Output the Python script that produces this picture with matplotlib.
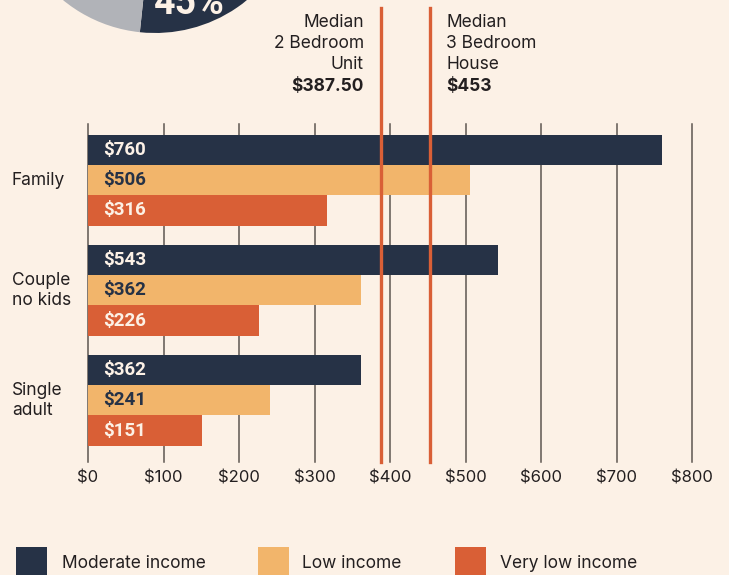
import numpy as np
import matplotlib
matplotlib.use("Agg")
import matplotlib.pyplot as plt
from matplotlib.patches import Rectangle

# data
categories = ["Family", "Couple\nno kids", "Single\nadult"]
series_names = ["Moderate income", "Low income", "Very low income"]
moderate = [760, 543, 362]
low = [506, 362, 241]
very_low = [316, 226, 151]
medians = [387.50, 453]
median_labels = ["Median\n2 Bedroom\nUnit", "Median\n3 Bedroom\nHouse"]
median_values = ["$387.50", "$453"]
pie_values = [45, 55]
pie_label = "45%"
xticks = [0, 100, 200, 300, 400, 500, 600, 700, 800]

BG = "#FCF1E6"
NAVY = "#263246"
ORANGE = "#F2B56B"
RED = "#D95F36"
GREY = "#B1B3B8"
GRID = "#5E5650"
TXT = "#231F20"
CREAM = "#FCF1E6"

W, H = 729, 575
plt.rcParams["font.family"] = ["Inter", "DejaVu Sans"]
fig = plt.figure(figsize=(W / 100, H / 100), dpi=100, facecolor=BG)

def px(x0, y0, x1, y1):
    # pixel box (top-left origin) -> figure fraction rect
    return [x0 / W, 1 - y1 / H, (x1 - x0) / W, (y1 - y0) / H]

val_font = dict(family=["Roboto", "DejaVu Sans"], weight="bold", fontsize=13.5)

# partial pie at the top, cut by the edge
pax = fig.add_axes(px(10, -257, 300, 33))
pax.pie(pie_values, colors=[NAVY, GREY], startangle=264, counterclock=True,
        radius=1, wedgeprops=dict(linewidth=0))
pax.text(0.24, -0.80, pie_label, color=CREAM, fontsize=27, ha="center", va="center",
         family=["Roboto", "DejaVu Sans"], weight="bold")
pax.set_xlim(-1, 1)
pax.set_ylim(-1, 1)
pax.set_aspect("equal")
pax.axis("off")

# bar chart
ax = fig.add_axes(px(88, 124, 692, 462))
ax.set_facecolor(BG)
y = np.arange(len(categories))
h = 0.275
for vals, col, off, tcol in [(moderate, NAVY, -h, CREAM), (low, ORANGE, 0, NAVY),
                             (very_low, RED, h, CREAM)]:
    ax.barh(y + off, vals, height=h, color=col, zorder=3, linewidth=0)
    for yi, v in zip(y, vals):
        ax.text(20, yi + off, f"${v}", color=tcol, va="center", ha="left",
                zorder=4, **val_font)

ax.set_xlim(0, 800)
ax.set_ylim(2.56, -0.51)
ax.set_xticks(xticks)
ax.set_xticklabels([f"${t}" for t in xticks], fontsize=12, color=TXT)
ax.tick_params(axis="x", length=0, pad=6)
ax.set_yticks([])
for s in ax.spines.values():
    s.set_visible(False)
for t in xticks:
    ax.axvline(t, color=GRID, lw=1.1, zorder=1, clip_on=False)

for yi, c in zip(y, categories):
    ax.text(-76 / 604 * 800, yi, c, fontsize=12.5, color=TXT, ha="left",
            va="center", linespacing=1.25)

# median lines and labels
for m in medians:
    ax.axvline(m, ymin=0, ymax=1.343, color=RED, lw=2.4, zorder=5, clip_on=False)

fig.text(364 / W, 1 - 14 / H, median_labels[0], ha="right", va="top", fontsize=12.5,
         color=TXT, linespacing=1.3)
fig.text(364 / W, 1 - 78 / H, median_values[0], ha="right", va="top", fontsize=12.5,
         color=TXT, weight="bold")
fig.text(446 / W, 1 - 14 / H, median_labels[1], ha="left", va="top", fontsize=12.5,
         color=TXT, linespacing=1.3)
fig.text(446 / W, 1 - 78 / H, median_values[1], ha="left", va="top", fontsize=12.5,
         color=TXT, weight="bold")

# legend
for (x0, tx), name, col in zip([(16, 62), (258, 302), (455, 500)], series_names,
                               [NAVY, ORANGE, RED]):
    fig.add_artist(Rectangle((x0 / W, 0), 31 / W, 28 / H, transform=fig.transFigure,
                             facecolor=col, edgecolor="none"))
    fig.text(tx / W, 1 - 563 / H, name, ha="left", va="center", fontsize=12.5,
             color=TXT)

fig.savefig("out.png", dpi=100, facecolor=BG)
